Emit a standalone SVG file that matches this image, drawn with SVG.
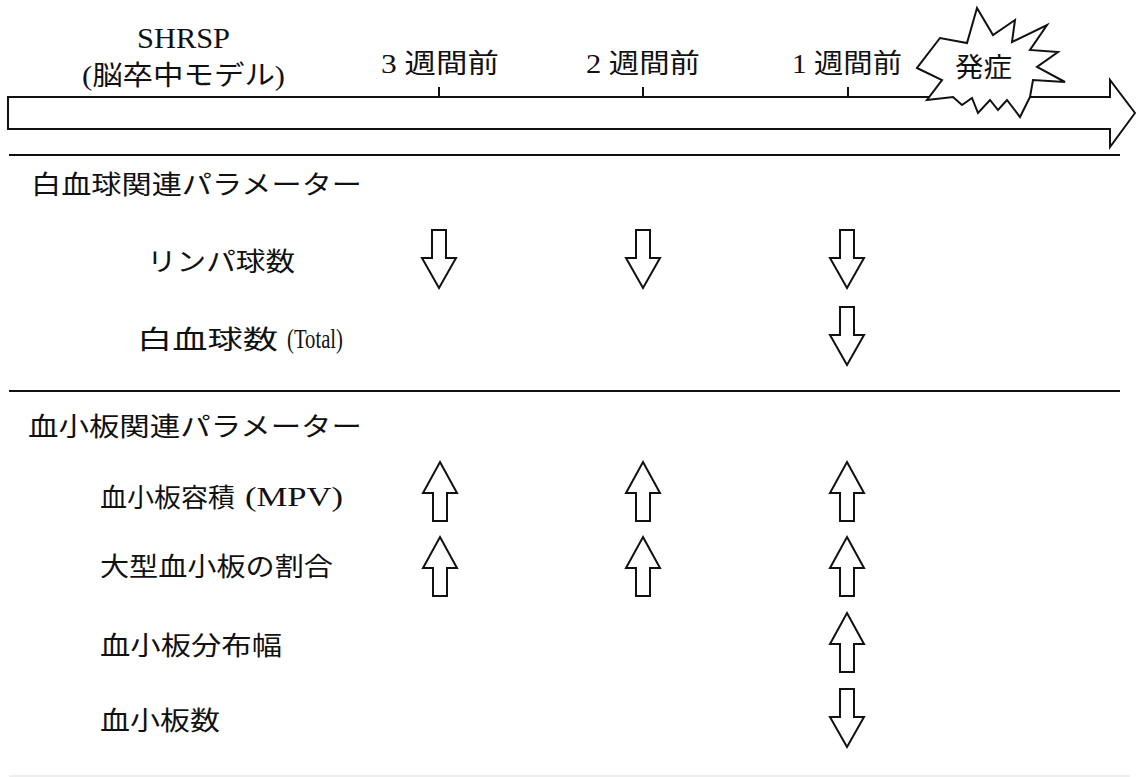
<svg xmlns="http://www.w3.org/2000/svg" xmlns:xlink="http://www.w3.org/1999/xlink" width="1136" height="777" viewBox="0 0 1136 777">
<style>
.cjk { font-family: 'Noto Sans CJK JP', sans-serif; fill: #111; }
.lat { font-family: 'Liberation Serif', 'Noto Sans CJK JP', serif; fill: #111; }
.ln { stroke: #111; stroke-width: 2; fill: none; }
.arr { fill: #fff; stroke: #111; stroke-width: 2; stroke-linejoin: miter; }
</style>
<defs>
<path id="down" class="arr" d="M-7,0 H7 V28 H17 L0,58 L-17,28 H-7 Z"/>
<path id="up" class="arr" d="M0,0 L17,31 H7 V59 H-7 V31 H-17 Z"/>
</defs>
<rect width="1136" height="777" fill="#fff"/>

<g id="timeline">
<polygon class="arr" points="8,97 1110,97 1110,80 1135,113 1110,147 1110,129 8,129"/>
<line class="ln" x1="439" y1="87" x2="439" y2="97"/>
<line class="ln" x1="643" y1="87" x2="643" y2="97"/>
<line class="ln" x1="848" y1="87" x2="848" y2="97"/>
</g>

<g id="title">
<text class="lat" x="137" y="48" font-size="29" textLength="93" lengthAdjust="spacingAndGlyphs">SHRSP</text>
<text class="lat" x="82" y="85" font-size="27" textLength="203" lengthAdjust="spacingAndGlyphs">(脳卒中モデル)</text>
</g>
<g id="w3"><text class="lat" x="381" y="73" font-size="27" textLength="118" lengthAdjust="spacingAndGlyphs">3 週間前</text></g>
<g id="w2"><text class="lat" x="586" y="73" font-size="27" textLength="114" lengthAdjust="spacingAndGlyphs">2 週間前</text></g>
<g id="w1"><text class="lat" x="792" y="73" font-size="27" textLength="110" lengthAdjust="spacingAndGlyphs">1 週間前</text></g>

<g id="onset">
<polygon class="arr" points="917,68 942,80 927,100 953,97 962,105 972,98 978,113 990,100 998,110 1007,100 1020,117 1030,97 1033,80 1065,82 1037,67 1058,52 1030,50 1047,25 1012,42 1015,20 993,35 977,8 967,43 940,38"/>
<text class="cjk" x="955" y="77" font-size="27" textLength="57" lengthAdjust="spacingAndGlyphs">発症</text>
</g>

<g id="separators">
<line class="ln" x1="9" y1="155" x2="1120" y2="155"/>
<line class="ln" x1="9" y1="391" x2="1120" y2="391"/>
<line x1="9" y1="776" x2="1130" y2="776" stroke="#ddd" stroke-width="1"/>
</g>

<g id="wbc-header"><text class="cjk" x="31" y="194" font-size="26" textLength="331" lengthAdjust="spacingAndGlyphs">白血球関連パラメーター</text></g>
<g id="lymph"><text class="cjk" x="147" y="271" font-size="26" textLength="148" lengthAdjust="spacingAndGlyphs">リンパ球数</text></g>
<g id="wbc-total">
<text class="cjk" x="137" y="349" font-size="26" textLength="141" lengthAdjust="spacingAndGlyphs">白血球数</text>
<text class="lat" x="287" y="348" font-size="27" textLength="56" lengthAdjust="spacingAndGlyphs">(Total)</text>
</g>
<g id="plt-header"><text class="cjk" x="28" y="436" font-size="26" textLength="334" lengthAdjust="spacingAndGlyphs">血小板関連パラメーター</text></g>
<g id="mpv">
<text class="cjk" x="100" y="507" font-size="26" textLength="135" lengthAdjust="spacingAndGlyphs">血小板容積</text>
<text class="lat" x="245" y="506" font-size="27" textLength="98" lengthAdjust="spacingAndGlyphs">(MPV)</text>
</g>
<g id="large"><text class="cjk" x="100" y="576" font-size="26" textLength="233" lengthAdjust="spacingAndGlyphs">大型血小板の割合</text></g>
<g id="pdw"><text class="cjk" x="100" y="655" font-size="26" textLength="182" lengthAdjust="spacingAndGlyphs">血小板分布幅</text></g>
<g id="plt-count"><text class="cjk" x="100" y="730" font-size="26" textLength="120" lengthAdjust="spacingAndGlyphs">血小板数</text></g>

<g id="connectors">
<use xlink:href="#down" x="439" y="230"/>
<use xlink:href="#down" x="643" y="230"/>
<use xlink:href="#down" x="847" y="230"/>
<use xlink:href="#down" x="847" y="307"/>
<use xlink:href="#up" x="440" y="462"/>
<use xlink:href="#up" x="643" y="462"/>
<use xlink:href="#up" x="847" y="462"/>
<use xlink:href="#up" x="440" y="537"/>
<use xlink:href="#up" x="643" y="537"/>
<use xlink:href="#up" x="847" y="537"/>
<use xlink:href="#up" x="847" y="613"/>
<use xlink:href="#down" x="847" y="689"/>
</g>
</svg>
